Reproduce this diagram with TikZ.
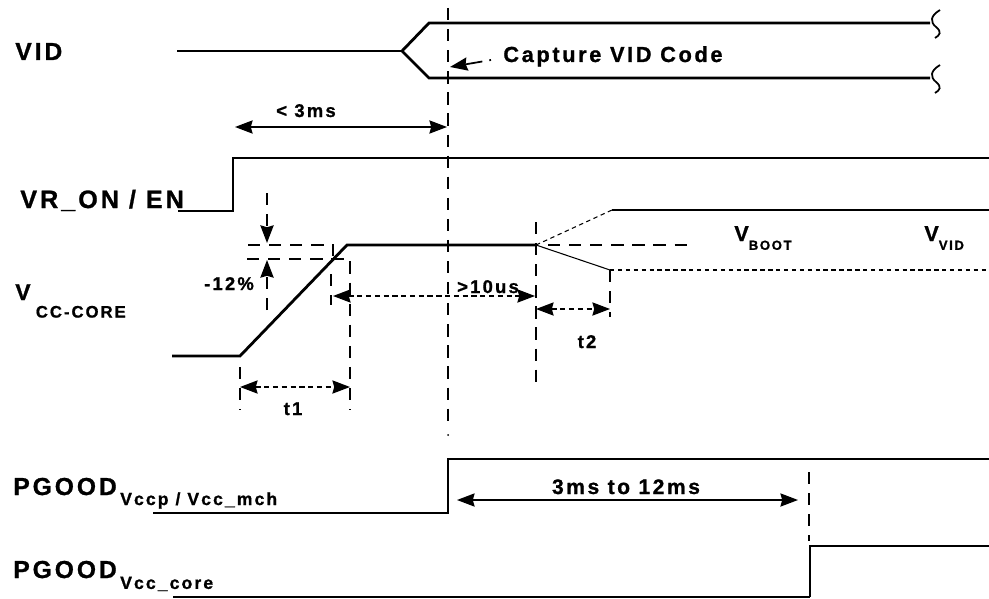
\documentclass[tikz,border=0pt]{standalone}
\usepackage{fontspec}
\usetikzlibrary{arrows.meta}
\newfontfamily\lbl[LetterSpace=12,FakeBold=1]{Liberation Sans Bold}
\newcommand{\fs}[1]{\fontsize{#1}{#1}\selectfont}
\newcommand{\sbs}[3]{\raisebox{-#1}{\fs{#2}#3}}

\tikzset{
  sig/.style={line width=1.6pt},
  trace/.style={line width=0.6pt},
  guide/.style={line width=1.1pt, dash pattern=on 7pt off 5pt},
  fine/.style={line width=0.6pt, dash pattern=on 2.5pt off 2pt},
  hd/.tip={Stealth[length=10pt,width=7.5pt,inset=1pt]},
  dim/.style={line width=0.9pt, hd-hd},
  dimdash/.style={dim, dash pattern=on 3pt off 2pt},
  signame/.style={anchor=base west, inner sep=0pt, font=\lbl},
  note/.style={anchor=base, inner sep=0pt, font=\lbl}
}

\begin{document}
\begin{tikzpicture}[x=0.02cm, y=-0.02cm]
  \useasboundingbox (0,0) rectangle (989,598);

  % signal names
  \node[signame] (vid) at (15,60) {\fs{14}VID};
  \node[signame] (vren) at (20,208) {\fs{14.3}VR\_ON / EN};
  \node[signame] (vcc) at (15,300) {\fs{13}V\hspace{3pt}\sbs{10pt}{9.5}{CC-CORE}};
  \node[signame] (pg1) at (13,495) {\fs{14}PGOOD\hspace{2pt}\sbs{5.7pt}{10}{Vccp / Vcc\_mch}};
  \node[signame] (pg2) at (13,578) {\fs{14}PGOOD\hspace{2pt}\sbs{6.2pt}{10}{Vcc\_core}};
  \node[signame] (vboot) at (734,241) {\fs{12.3}V\sbs{5pt}{7.5}{BOOT}};
  \node[signame] (vvid) at (924,241) {\fs{12.3}V\sbs{5pt}{7.5}{VID}};

  % VID
  \coordinate (vidS) at (402,51);
  \draw[sig] (177,51) -- (vidS);
  \draw[sig] (930,23) -- (429,23) -- (vidS) -- (429,78) -- (930,78);
  \draw[line width=1pt] (940,10) .. controls (930,16) and (930,22) .. (936,27)
    .. controls (942,32) and (940,35) .. (935,38);
  \draw[line width=1pt] (940,65) .. controls (930,71) and (930,77) .. (936,82)
    .. controls (942,87) and (940,90) .. (935,93);

  % VR_ON / EN
  \draw[sig] (178,211) -- (233,211) -- (233,158) -- (989,158);

  % Vcc core
  \coordinate (boot) at (536,245);
  \draw[sig] (172,356) -- (240,356) -- (347,245) -- (boot);
  \draw[trace] (boot) -- (610,270);
  \draw[fine] (610,270) -- (989,270);
  \draw[fine] (boot) -- (612,210);
  \draw[trace] (612,210) -- (989,210);
  \draw[guide] (548,245) -- (688,245);

  % guides
  \draw[guide] (448,8) -- (448,426);
  \fill (448,435) circle (1);
  \draw[guide] (248,245) -- (333,245) -- (333,256);
  \draw[guide] (247,259) -- (350,259) -- (350,410);
  \draw[guide] (331,274) -- (331,305);
  \draw[guide] (240,367) -- (240,410);
  \draw[guide] (536,222) -- (536,383);
  \draw[guide] (610,270) -- (610,317);
  \draw[guide] (809,472) -- (809,541);
  \draw[guide, -hd] (267,193) -- (267,243);
  \draw[guide, -hd] (267,310) -- (267,260);

  % timing marks
  \node[anchor=base west, inner sep=0pt, font=\lbl\fs{12.4}] (capture) at (503,62) {Capture VID Code};
  \draw[line width=1pt, -hd, dash pattern=on 1pt off 4pt on 30pt] (491,60) -- (450,67);
  \node[note] (lt3) at (306,117) {\fs{10.5}< 3ms};
  \draw[dim] (235,127) -- (447,127);
  \node[note] (pct) at (229,290) {\fs{10.5}-12\%};
  \node[note] (gt10) at (488,293) {\fs{10.5}>10us};
  \draw[dimdash] (333,296) -- (535,296);
  \node[note] (t1) at (293,415) {\fs{10.5}t1};
  \draw[dimdash] (240,387) -- (350,387);
  \node[note] (t2) at (587,348) {\fs{10.5}t2};
  \draw[dimdash] (536,309) -- (610,309);
  \node[note] (range) at (626,494) {\fs{12}3ms to 12ms};
  \draw[dim] (457,500) -- (798,500);

  % PGOOD
  \draw[sig] (153,513) -- (448,513) -- (448,459) -- (989,459);
  \draw[line width=1pt] (173,597) -- (810,597);
  \draw[sig] (810,597) -- (810,546) -- (989,546);
\end{tikzpicture}
\end{document}
